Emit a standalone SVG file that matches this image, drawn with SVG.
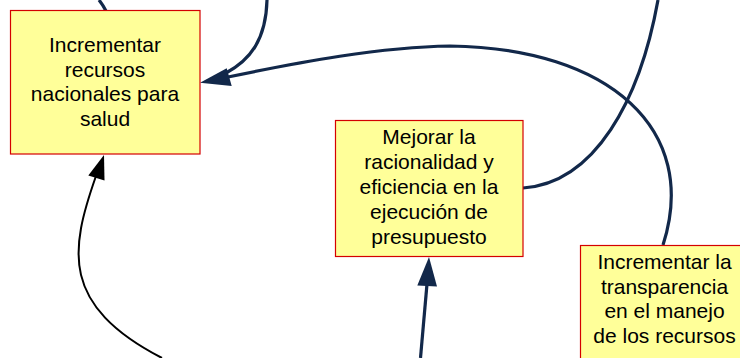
<svg xmlns="http://www.w3.org/2000/svg" width="740" height="358" viewBox="0 0 740 358">
<style>
.box{fill:#ffff99;stroke:#d40000;stroke-width:1.2}
.lbl{font-family:"Liberation Sans",Arial,sans-serif;font-size:21px;fill:#000;text-anchor:middle}
.nv{fill:none;stroke:#12284a;stroke-width:3.2}
.bk{fill:none;stroke:#000;stroke-width:2}
.nvh{fill:#12284a;stroke:none}
.bkh{fill:#000;stroke:none}
</style>
<rect width="740" height="358" fill="#fff"/>
<g id="connectors">
<path class="nv" d="M106,11 Q103,5 99,0"/>
<path class="nv" d="M267,0 C266,40 250,60 226,73"/>
<path class="nv" d="M663,245 C700,130 610,48 450,46 C380,47 300,62 228,77"/>
<path class="nv" d="M523,188 C595,183 640,100 658,0"/>
<path class="nv" d="M420.5,358 L427,284"/>
<path class="bk" d="M162,358 C60,305 70,250 96,176"/>
<polygon class="nvh" points="200,82.7 226.7,68.3 231.7,86"/>
<polygon class="nvh" points="429,257 417.3,285.5 437,286.5"/>
<polygon class="bkh" points="104,155 88.3,175.5 104.5,180.5"/>
</g>
<g id="node1">
<rect class="box" x="10.5" y="10.5" width="189.5" height="143.5"/>
<text class="lbl" x="105" y="51.8">Incrementar</text>
<text class="lbl" x="105" y="76.6">recursos</text>
<text class="lbl" x="105" y="101.4">nacionales para</text>
<text class="lbl" x="105" y="126.2">salud</text>
</g>
<g id="node2">
<rect class="box" x="335.5" y="120.5" width="187.5" height="136"/>
<text class="lbl" x="429" y="144.3">Mejorar la</text>
<text class="lbl" x="429" y="169.1">racionalidad y</text>
<text class="lbl" x="429" y="194">eficiencia en la</text>
<text class="lbl" x="429" y="219">ejecución de</text>
<text class="lbl" x="429" y="244">presupuesto</text>
</g>
<g id="node3">
<rect class="box" x="580.5" y="245.5" width="168" height="130"/>
<text class="lbl" x="664.5" y="269.3">Incrementar la</text>
<text class="lbl" x="664.5" y="293.8">transparencia</text>
<text class="lbl" x="664.5" y="318.3">en el manejo</text>
<text class="lbl" x="664.5" y="342.7">de los recursos</text>
</g>
</svg>
